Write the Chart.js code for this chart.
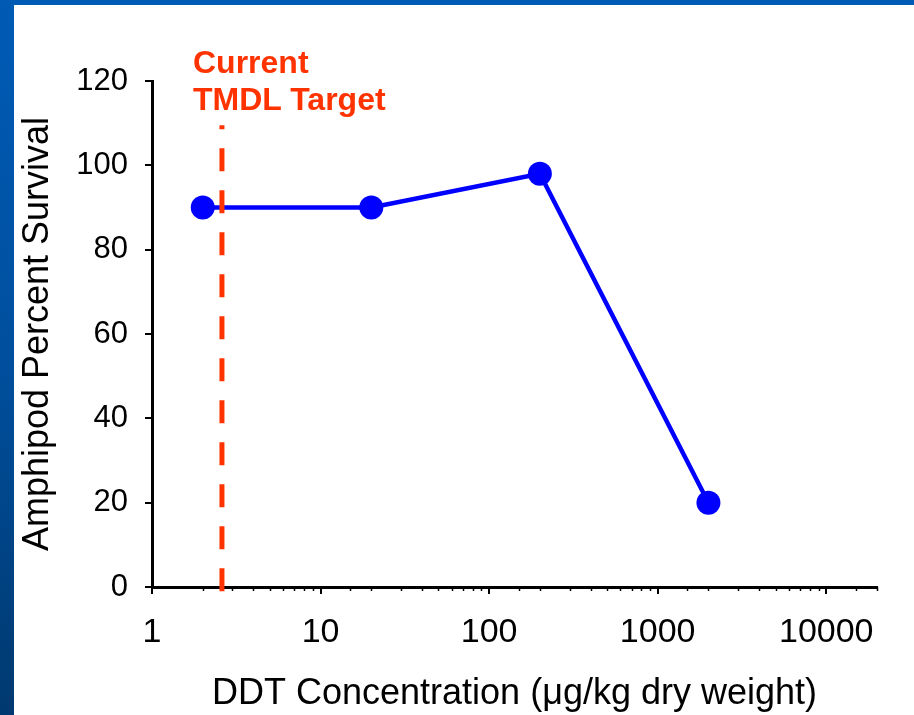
<!DOCTYPE html>
<html>
<head>
<meta charset="utf-8">
<script src="https://cdn.jsdelivr.net/npm/chart.js@4.4.1/dist/chart.umd.min.js"></script>
<style>
  html, body { margin: 0; padding: 0; }
  body { width: 914px; height: 715px; position: relative; overflow: hidden;
         background: linear-gradient(to bottom, #005bb5 0%, #004f9e 50%, #00396f 100%); }
  #panel { position: absolute; left: 14px; top: 5px; right: 0; bottom: 0; background: #ffffff; }
  #chart { position: absolute; left: 0; top: 0; }
  #note { position: absolute; left: 193px; top: 44px; color: #ff3300;
          font: bold 32px "Liberation Sans", Arial, sans-serif; line-height: 37px; white-space: nowrap; }
</style>
</head>
<body>
<div id="panel"></div>
<canvas id="chart" width="914" height="715"></canvas>
<div id="note"></div>
<script>
// ---- data ----
const concentrations = [2, 20, 200, 2000];          // DDT µg/kg dry weight
const survival = [90, 90, 98, 20];                  // amphipod percent survival
const targetX = [2.6, 2.6];                         // current TMDL target (vertical line)
const targetY = [-1, 109.5];
const yTicks = [0, 20, 40, 60, 80, 100, 120];
const xMajorTicks = [1, 10, 100, 1000, 10000];
const xTitle = 'DDT Concentration (\u03bcg/kg dry weight)';
const yTitle = 'Amphipod Percent Survival';
const noteLines = ['Current', 'TMDL Target'];

document.getElementById('note').innerHTML = noteLines.join('<br>');

const FONT = '"Liberation Sans", Arial, sans-serif';
const isMajor = v => xMajorTicks.includes(v);

const minorTicks = {
  id: 'minorTicks',
  afterDraw(chart) {
    const s = chart.scales.x, ctx = chart.ctx;
    ctx.save();
    ctx.strokeStyle = '#000';
    ctx.lineWidth = 1.5;
    s.ticks.forEach(t => {
      if (isMajor(t.value)) return;
      const px = Math.round(s.getPixelForValue(t.value)) + 0.5;
      ctx.beginPath();
      ctx.moveTo(px, s.top);
      ctx.lineTo(px, s.top + 4);
      ctx.stroke();
    });
    ctx.restore();
  }
};

new Chart(document.getElementById('chart'), {
  type: 'line',
  data: {
    datasets: [
      {
        label: 'Current TMDL Target',
        data: targetX.map((x, i) => ({ x, y: targetY[i] })),
        borderColor: '#ff3300',
        borderWidth: 5,
        borderDash: [23, 19],
        borderCapStyle: 'butt',
        pointRadius: 0,
        clip: false,
        order: 0
      },
      {
        label: 'Survival',
        data: concentrations.map((x, i) => ({ x, y: survival[i] })),
        borderColor: '#0000ff',
        backgroundColor: '#0000ff',
        borderWidth: 4.5,
        pointRadius: 12,
        pointBackgroundColor: '#0000ff',
        pointBorderWidth: 0,
        tension: 0,
        order: 1
      }
    ]
  },
  plugins: [minorTicks],
  options: {
    responsive: false,
    animation: false,
    devicePixelRatio: 1,
    layout: { padding: { top: 81, right: 37, left: 0, bottom: 0 } },
    plugins: { legend: { display: false }, tooltip: { enabled: false } },
    scales: {
      x: {
        type: 'logarithmic',
        min: 1,
        max: 20000,
        afterFit(s) { s.height = 128; },
        border: { display: true, color: '#000', width: 3 },
        grid: {
          drawOnChartArea: false,
          tickLength: 7,
          lineWidth: 2,
          tickColor: ctx => (ctx.tick && isMajor(ctx.tick.value)) ? '#000' : 'rgba(0,0,0,0)'
        },
        ticks: {
          autoSkip: false,
          maxRotation: 0,
          padding: 18,
          color: '#000',
          font: { family: FONT, size: 34 },
          callback: v => isMajor(v) ? String(v) : ''
        },
        title: {
          display: true,
          text: xTitle,
          color: '#000',
          font: { family: FONT, size: 36, lineHeight: 1 },
          padding: { top: 0, bottom: 3 }
        }
      },
      y: {
        type: 'linear',
        min: yTicks[0],
        max: yTicks[yTicks.length - 1],
        afterFit(s) { s.width = 152; },
        afterBuildTicks(s) { s.ticks = yTicks.map(v => ({ value: v })); },
        border: { display: true, color: '#000', width: 3 },
        grid: { drawOnChartArea: false, tickLength: 7, lineWidth: 2, color: '#000' },
        ticks: {
          padding: 17,
          color: '#000',
          font: { family: FONT, size: 31 }
        },
        title: {
          display: true,
          text: yTitle,
          color: '#000',
          font: { family: FONT, size: 36, lineHeight: 1 },
          padding: { top: 20, bottom: 0 }
        }
      }
    }
  }
});
</script>
</body>
</html>
